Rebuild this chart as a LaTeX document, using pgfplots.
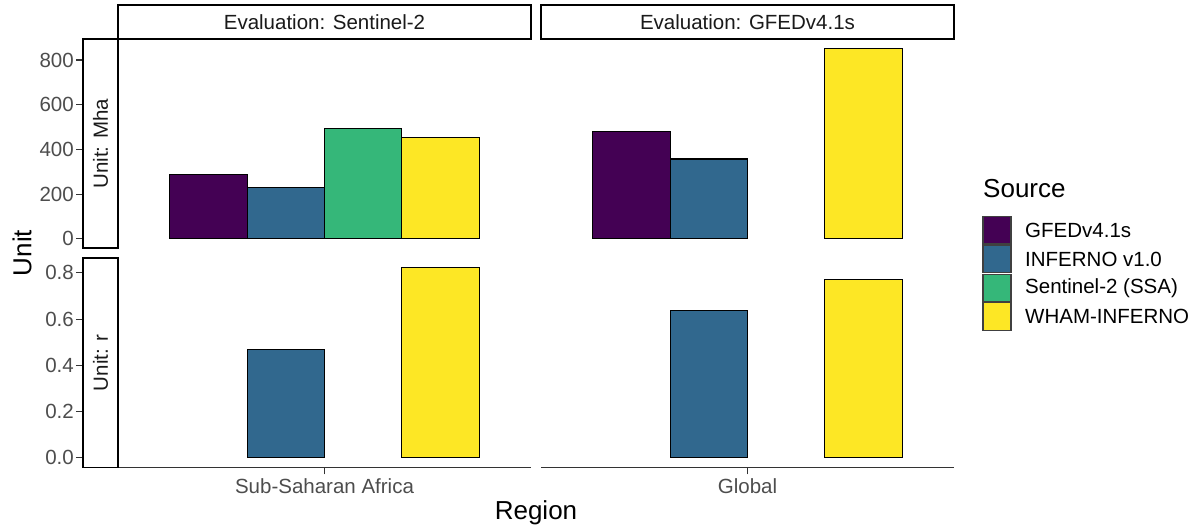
\documentclass[border=0pt]{standalone}
\usepackage{pgfplots}
\pgfplotsset{compat=1.18}
\usepackage{fontspec}
\setmainfont{Liberation Sans}
\definecolor{vA}{HTML}{440154}
\definecolor{vB}{HTML}{31688E}
\definecolor{vC}{HTML}{35B779}
\definecolor{vD}{HTML}{FDE725}
\definecolor{gtick}{HTML}{4D4D4D}
\definecolor{gstrip}{HTML}{1A1A1A}
\newcommand\tf{\fontsize{20.5}{24}\selectfont}
\newcommand\Tf{\fontsize{26}{30}\selectfont}
\pgfplotsset{
  panel/.style={scale only axis, height=209pt,
    tick align=outside, major tick length=7pt,
    tick style={color=black!80, line width=1.1pt},
    axis line style={color=black!80, line width=1.3pt},
    ticklabel style={font=\tf, text=gtick},
    yticklabel style={inner sep=2pt},
    xticklabel style={inner sep=4pt}},
  b/.style={ybar, bar width=0.225, bar shift=0pt, fill=#1, draw=black, line width=1.1pt},
}
\begin{document}
\begin{tikzpicture}[x=1pt,y=1pt]
\useasboundingbox (0,0) rectangle (1192,528);
% row 1, col 1 (Mha, Sentinel-2)
\begin{axis}[panel, at={(83pt,279.7pt)}, anchor=south west, width=448pt,
  xmin=0.2983, xmax=1.6, ymin=-42.5, ymax=892.5,
  axis x line=none, axis y line*=left,
  ytick={0,200,400,600,800}, yticklabels={0,200,400,600,800}]
\addplot[b=vA] coordinates {(0.6625,288)};
\addplot[b=vB] coordinates {(0.8875,231)};
\addplot[b=vC] coordinates {(1.1125,492)};
\addplot[b=vD] coordinates {(1.3375,452)};
\end{axis}
% row 1, col 2 (Mha, GFED)
\begin{axis}[panel, at={(541pt,279.7pt)}, anchor=south west, width=413pt,
  xmin=0.4, xmax=1.6, ymin=-42.5, ymax=892.5, hide axis]
\addplot[b=vA] coordinates {(0.6625,482)};
\addplot[b=vB] coordinates {(0.8875,357)};
\addplot[b=vD] coordinates {(1.3375,850)};
\end{axis}
% row 2, col 1 (r, Sentinel-2)
\begin{axis}[panel, at={(83pt,60.7pt)}, anchor=south west, width=448pt,
  xmin=0.2983, xmax=1.6, ymin=-0.0411, ymax=0.8631,
  axis x line*=bottom, axis y line*=left,
  xtick={1}, xticklabels={Sub-Saharan Africa},
  ytick={0,0.2,0.4,0.6,0.8}, yticklabels={0.0,0.2,0.4,0.6,0.8}]
\addplot[b=vB] coordinates {(0.8875,0.470)};
\addplot[b=vD] coordinates {(1.3375,0.822)};
\end{axis}
% row 2, col 2 (r, GFED)
\begin{axis}[panel, at={(541pt,60.7pt)}, anchor=south west, width=413pt,
  xmin=0.4, xmax=1.6, ymin=-0.0411, ymax=0.8631,
  axis x line*=bottom, axis y line=none,
  xtick={1}, xticklabels={Global}, ytick=\empty]
\addplot[b=vB] coordinates {(0.8875,0.639)};
\addplot[b=vD] coordinates {(1.3375,0.772)};
\end{axis}
% strips
\begin{scope}[line width=1.6pt]
\draw[fill=white] (118,488.7) rectangle (531,523);
\draw[fill=white] (541,488.7) rectangle (954,523);
\draw[fill=white] (83,279.7) rectangle (118,488.7);
\draw[fill=white] (83,60.7) rectangle (118,269.7);
\end{scope}
\node[font=\tf, text=gstrip] at (324.5,505.8) {Evaluation: Sentinel-2};
\node[font=\tf, text=gstrip] at (747.5,505.8) {Evaluation: GFEDv4.1s};
\node[font=\tf, text=gstrip, rotate=90] at (100.5,384.2) {Unit: Mha};
\node[font=\tf, text=gstrip, rotate=90] at (100.5,165.2) {Unit: r};
% axis titles
\node[font=\Tf, rotate=90] at (22,275) {Unit};
\node[font=\Tf] at (536,15) {Region};
% legend
\node[font=\Tf, anchor=base west, inner sep=0pt] at (983,330) {Source};
\begin{scope}[draw=black!75, line width=1.1pt]
\draw[fill=vA] (983,311.5) rectangle (1011,284);
\draw[fill=vB] (983,282.7) rectangle (1011,255.2);
\draw[fill=vC] (983,253.9) rectangle (1011,226.4);
\draw[fill=vD] (983,225.1) rectangle (1011,197.6);
\end{scope}
\node[font=\tf, anchor=west, inner sep=0pt] at (1025,297.7) {GFEDv4.1s};
\node[font=\tf, anchor=west, inner sep=0pt] at (1025,268.9) {INFERNO v1.0};
\node[font=\tf, anchor=west, inner sep=0pt] at (1025,240.1) {Sentinel-2 (SSA)};
\node[font=\tf, anchor=west, inner sep=0pt] at (1025,211.3) {WHAM-INFERNO};
\end{tikzpicture}
\end{document}
